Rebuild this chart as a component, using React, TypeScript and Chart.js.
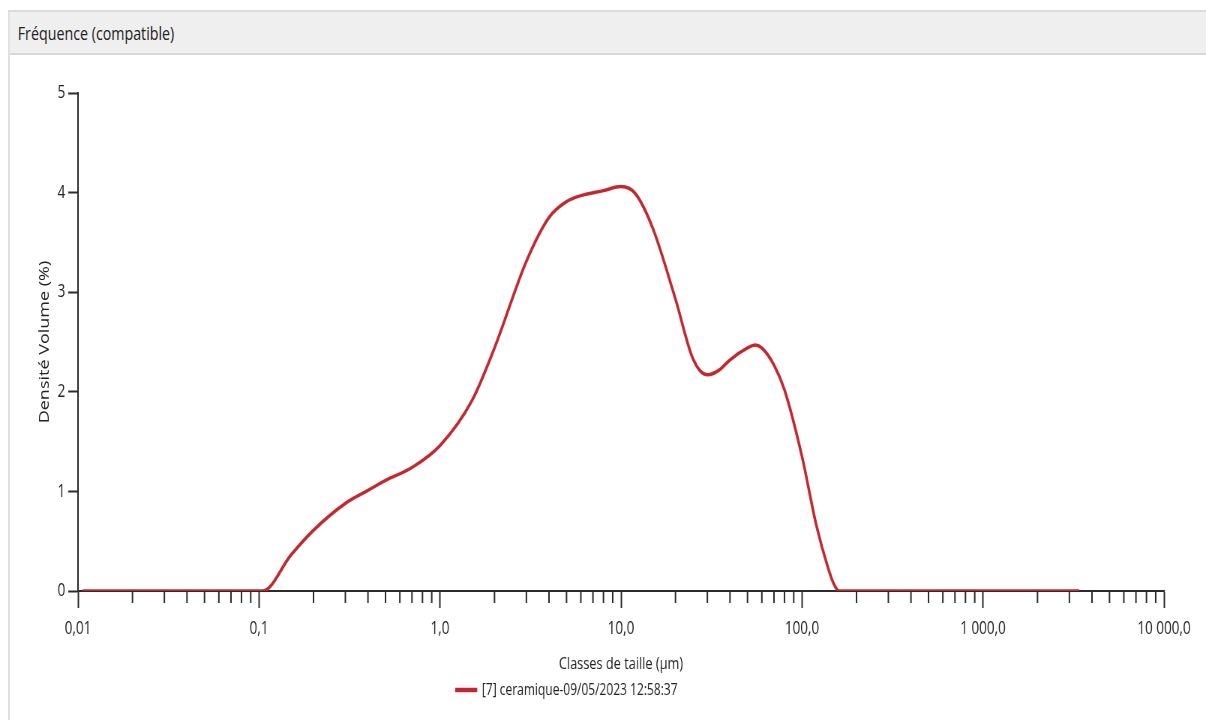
import React, { useEffect, useRef } from "react";
import { Chart, registerables } from "chart.js";

Chart.register(...registerables);

// horizontal squeeze of the reference rendering
const SX = 0.75;
const PAGE_W = 1206;
const PAGE_H = 720;
const INNER_W = PAGE_W / SX;
const HEADER_H = 57;
const CANVAS_H = PAGE_H - HEADER_H;

const panelTitle = "Fréquence (compatible)";
const seriesLabel = "[7] ceramique-09/05/2023 12:58:37";
const xAxisTitle = "Classes de taille (µm)";
const yAxisTitle = "Densité Volume (%)";

// particle sizes (µm)
const sizes = [
  0.0106, 0.02, 0.05, 0.105, 0.15, 0.2, 0.3, 0.4, 0.5, 0.7, 1.0, 1.5, 2, 3, 4, 5, 6, 8, 10, 12, 15, 20,
  25, 30, 35, 40, 50, 55, 60, 70, 80, 100, 120, 140, 150, 160, 200, 500, 1000, 3400,
];
// volume density (%)
const densities = [
  0, 0, 0, 0, 0.36, 0.61, 0.88, 1.01, 1.11, 1.24, 1.46, 1.91, 2.44, 3.31, 3.75, 3.91, 3.97, 4.02, 4.06,
  3.99, 3.64, 2.93, 2.33, 2.17, 2.22, 2.32, 2.44, 2.47, 2.44, 2.27, 2.02, 1.35, 0.66, 0.22, 0.07, 0, 0,
  0, 0, 0,
];

const xTickValues = [0.01, 0.1, 1, 10, 100, 1000, 10000];
const xTickLabels = ["0,01", "0,1", "1,0", "10,0", "100,0", "1 000,0", "10 000,0"];
const xMinorFactors = [2, 3, 4, 5, 6, 7, 8, 9];
const yTickValues = [0, 1, 2, 3, 4, 5];

const LINE_COLOR = "#c3282f";
const AXIS_COLOR = "#2b2b2b";
const FONT = "'Open Sans', 'Noto Sans', sans-serif";

const minorTicksPlugin = {
  id: "minorTicks",
  afterLayout(chart: any) {
    // shift the centred legend slightly left, as in the reference
    if (chart.legend) chart.legend.right -= 40;
  },
  afterDraw(chart: any) {
    const xs = chart.scales.x;
    const ctx = chart.ctx;
    const y0 = chart.chartArea.bottom;
    ctx.save();
    ctx.strokeStyle = AXIS_COLOR;
    ctx.lineWidth = 2;
    for (let d = 0; d < xTickValues.length - 1; d++) {
      for (const f of xMinorFactors) {
        const v = xTickValues[d] * f;
        const px = xs.getPixelForValue(v);
        ctx.beginPath();
        ctx.moveTo(px, y0);
        ctx.lineTo(px, y0 + 12);
        ctx.stroke();
      }
    }
    ctx.restore();
  },
};

export default function App() {
  const ref = useRef<HTMLCanvasElement | null>(null);

  useEffect(() => {
    if (!ref.current) return;
    const chart = new Chart(ref.current, {
      type: "line",
      data: {
        datasets: [
          {
            label: seriesLabel,
            data: sizes.map((s, i) => ({ x: s, y: densities[i] })),
            borderColor: LINE_COLOR,
            backgroundColor: LINE_COLOR,
            borderWidth: 3.5,
            pointRadius: 0,
            cubicInterpolationMode: "monotone",
            fill: false,
          },
        ],
      },
      plugins: [minorTicksPlugin],
      options: {
        animation: false,
        responsive: false,
        devicePixelRatio: 1,
        layout: { padding: { top: 36, right: 56, left: 0, bottom: 12 } },
        plugins: {
          tooltip: { enabled: false },
          legend: {
            position: "bottom",
            labels: {
              boxWidth: 26,
              boxHeight: 1,
              padding: 8,
              color: "#222",
              font: { family: FONT, size: 16 },
            },
          },
        },
        scales: {
          x: {
            type: "logarithmic",
            min: 0.01,
            max: 10000,
            afterBuildTicks: (scale: any) => {
              scale.ticks = xTickValues.map((v) => ({ value: v }));
            },
            ticks: {
              autoSkip: false,
              maxRotation: 0,
              padding: 10,
              color: "#222",
              font: { family: FONT, size: 18 },
              callback: (_v: any, i: number) => xTickLabels[i],
            },
            grid: {
              display: true,
              drawOnChartArea: false,
              drawTicks: true,
              tickLength: 17,
              tickColor: AXIS_COLOR,
              tickWidth: 2,
            },
            border: { display: true, color: AXIS_COLOR, width: 2 },
            title: {
              display: true,
              text: xAxisTitle,
              color: "#222",
              font: { family: FONT, size: 17 },
              padding: { top: 4, bottom: 0 },
            },
          },
          y: {
            type: "linear",
            min: 0,
            max: 5,
            afterBuildTicks: (scale: any) => {
              scale.ticks = yTickValues.map((v) => ({ value: v }));
            },
            afterFit: (scale: any) => {
              scale.width = 104;
            },
            ticks: {
              padding: 4,
              color: "#222",
              font: { family: FONT, size: 18 },
              callback: (v: any) => String(v),
            },
            grid: {
              display: true,
              drawOnChartArea: false,
              drawTicks: true,
              tickLength: 13,
              tickColor: AXIS_COLOR,
              tickWidth: 2,
            },
            border: { display: true, color: AXIS_COLOR, width: 2 },
            title: {
              display: true,
              text: yAxisTitle,
              color: "#222",
              font: { family: FONT, size: 18 },
              padding: { top: 49, bottom: 0 },
            },
          },
        },
      },
    } as any);
    return () => chart.destroy();
  }, []);

  return (
    <div
      style={{
        position: "fixed",
        left: 0,
        top: 0,
        width: PAGE_W,
        height: PAGE_H,
        overflow: "hidden",
        background: "#fff",
      }}
    >
      <div
        style={{
          position: "absolute",
          left: 0,
          top: 0,
          width: INNER_W,
          height: PAGE_H,
          transform: `scaleX(${SX})`,
          transformOrigin: "0 0",
        }}
      >
        <div
          style={{
            position: "absolute",
            left: 10.7,
            top: 10,
            right: -4,
            bottom: -4,
            borderLeft: "2px solid #d6d6d6",
            borderTop: "2px solid #dcdcdc",
          }}
        />
        <div
          style={{
            position: "absolute",
            left: 12.7,
            top: 12,
            right: -4,
            height: 43,
            background: "#efefef",
            borderBottom: "2px solid #d9d9d9",
            fontFamily: FONT,
            fontSize: 19,
            color: "#222",
            lineHeight: "43px",
            paddingLeft: 11,
            boxSizing: "border-box",
          }}
        >
          {panelTitle}
        </div>
        <canvas
          ref={ref}
          width={INNER_W}
          height={CANVAS_H}
          style={{
            position: "absolute",
            left: 0,
            top: HEADER_H,
            width: INNER_W,
            height: CANVAS_H,
            display: "block",
          }}
        />
      </div>
    </div>
  );
}
